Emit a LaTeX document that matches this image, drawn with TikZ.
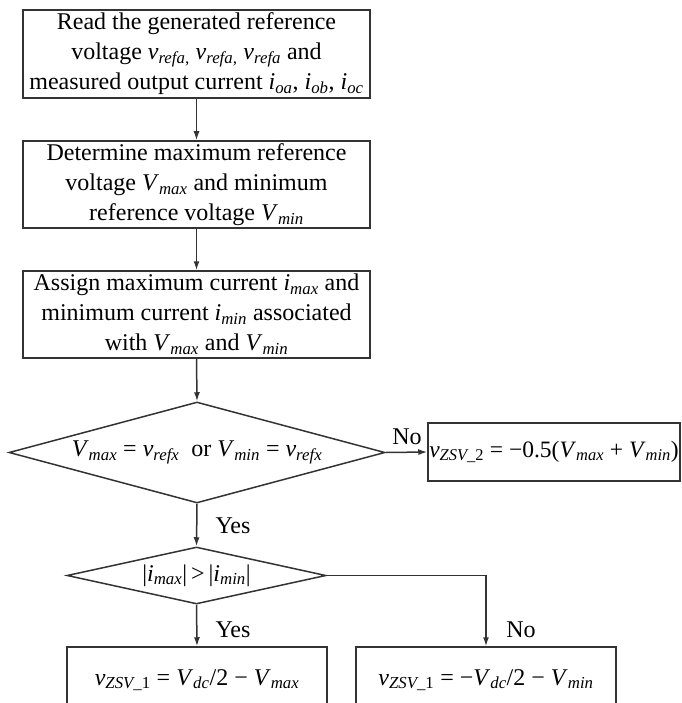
\documentclass[tikz,border=0pt]{standalone}
\usepackage{fontspec}
\setmainfont{Liberation Serif}
\usetikzlibrary{shapes.geometric,arrows.meta}
\newcommand\sbs[1]{\textsubscript{\itshape #1}}
\newcommand\vi[1]{\textit{#1}}
\begin{document}
\begin{tikzpicture}[x=1bp,y=-1bp,
  every node/.style={font=\fontsize{24bp}{30bp}\selectfont},
  procbox/.style={draw=black!80, line width=1.5bp, rectangle, align=center, inner sep=0pt},
  decbox/.style={draw=black!80, line width=1.5bp, diamond, inner sep=0pt},
  conn/.style={draw=black!80, line width=1.5bp, -{Latex[length=9bp,width=6bp]}},
  lbl/.style={inner sep=0pt}]
\useasboundingbox (0,0) rectangle (682,703);
\clip (0,0) rectangle (682,703);

\node[procbox, minimum width=347bp, minimum height=88bp] (b1) at (196.5,54)
  {Read the generated reference\\
   voltage \vi{v}\sbs{refa,} \vi{v}\sbs{refa,} \vi{v}\sbs{refa} and\\
   measured output current \vi{i}\sbs{oa}, \vi{i}\sbs{ob}, \vi{i}\sbs{oc}};
\node[procbox, minimum width=347bp, minimum height=87bp] (b2) at (196.5,184.5)
  {Determine maximum reference\\
   voltage \vi{V}\sbs{max} and minimum\\
   reference voltage \vi{V}\sbs{min}};
\node[procbox, minimum width=347bp, minimum height=87bp] (b3) at (196.5,314.5)
  {Assign maximum current \vi{i}\sbs{max} and\\
   minimum current \vi{i}\sbs{min} associated\\
   with \vi{V}\sbs{max} and \vi{V}\sbs{min}};
\node[decbox, minimum width=376bp, minimum height=101bp,
  label={center:\vi{V}\sbs{max} = \vi{v}\sbs{refx}\ \ or \vi{V}\sbs{min} = \vi{v}\sbs{refx}}] (d1) at (197,452.5) {};
\node[procbox, minimum width=252bp, minimum height=58bp, font=\fontsize{23.5bp}{30bp}\selectfont] (b4) at (554,452)
  {\vi{v}\textsubscript{\itshape ZSV\upshape\_2} = −0.5(\vi{V}\sbs{max} + \vi{V}\sbs{min})};
\node[decbox, minimum width=259bp, minimum height=57bp,
  label={center:|\vi{i}\sbs{max}|\,>\,|\vi{i}\sbs{min}|}] (d2) at (196.5,575.5) {};
\node[procbox, minimum width=260bp, minimum height=66bp] (b5) at (197,680)
  {\vi{v}\textsubscript{\itshape ZSV\upshape\_1} = \vi{V}\sbs{dc}/2 − \vi{V}\sbs{max}};
\node[procbox, minimum width=260bp, minimum height=66bp] (b6) at (486,680)
  {\vi{v}\textsubscript{\itshape ZSV\upshape\_1} = −\vi{V}\sbs{dc}/2 − \vi{V}\sbs{min}};

\draw[conn] (b1.south) -- (b2.north);
\draw[conn] (b2.south) -- (b3.north);
\draw[conn] (b3.south) -- (d1.north);
\draw[conn] (d1.east) -- (b4.west);
\draw[conn] (d1.south) -- (d2.north);
\draw[conn] (d2.south) -- (b5.north);
\draw[conn] (d2.east) -| (b6.north);

\node[lbl] (lno1) at (407,437) {No};
\node[lbl] (lyes1) at (233,526) {Yes};
\node[lbl] (lyes2) at (233,630) {Yes};
\node[lbl] (lno2) at (521,630) {No};
\end{tikzpicture}
\end{document}
